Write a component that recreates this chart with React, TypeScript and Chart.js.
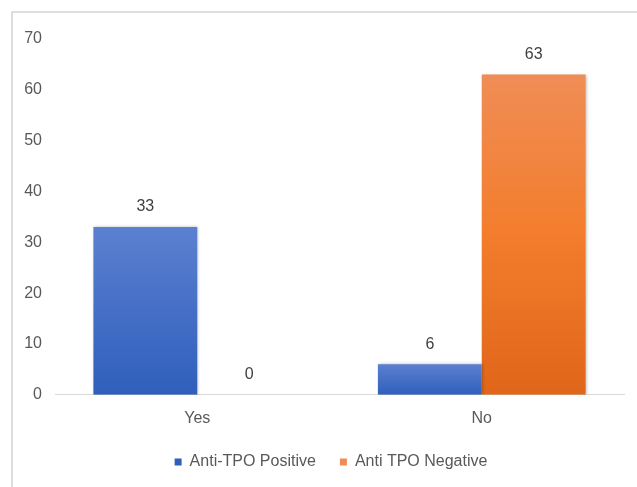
import React, { useEffect, useRef } from "react";
import { Chart, registerables } from "chart.js";

Chart.register(...registerables);

const categories = ["Yes", "No"];
const seriesNames = ["Anti-TPO Positive", "Anti TPO Negative"];
const positiveValues = [33, 6];
const negativeValues = [0, 63];
const yMin = 0;
const yMax = 70;
const yStep = 10;

const blueStops = ["#5b80d0", "#2f5fbc"];
const orangeStops = ["#f08d56", "#f37d2c", "#e0661a"];

function barGradient(stops: string[]) {
  return (ctx: any) => {
    const chart = ctx.chart;
    const y = chart.scales?.y;
    if (!chart.chartArea || !y || ctx.parsed == null) return stops[0];
    const top = y.getPixelForValue(ctx.parsed.y);
    const bottom = y.getPixelForValue(0);
    if (Math.abs(bottom - top) < 1) return stops[0];
    const g = chart.ctx.createLinearGradient(0, top, 0, bottom);
    stops.forEach((c, i) => g.addColorStop(i / (stops.length - 1), c));
    return g;
  };
}

const shadowPlugin = {
  id: "barShadow",
  beforeDatasetsDraw(chart: any) {
    const c = chart.ctx;
    c.save();
    c.shadowColor = "rgba(0,0,0,0.28)";
    c.shadowBlur = 3;
    c.shadowOffsetX = 1;
    c.shadowOffsetY = 0;
  },
  afterDatasetsDraw(chart: any) {
    chart.ctx.restore();
  },
};

const legendShiftPlugin = {
  id: "legendShift",
  afterLayout(chart: any) {
    const lg = chart.legend;
    if (!lg) return;
    lg.left = 38;
    lg.top -= 12;
    lg.bottom -= 12;
  },
};

const labelPlugin = {
  id: "valueLabels",
  afterDatasetsDraw(chart: any) {
    const c = chart.ctx;
    c.save();
    c.font = "16px 'Liberation Sans', Arial, sans-serif";
    c.fillStyle = "#404040";
    c.textAlign = "center";
    c.textBaseline = "middle";
    chart.data.datasets.forEach((ds: any, di: number) => {
      const meta = chart.getDatasetMeta(di);
      meta.data.forEach((bar: any, i: number) => {
        const v = ds.data[i];
        c.fillText(String(v), bar.x, bar.y - 20);
      });
    });
    c.restore();
  },
};

export default function App() {
  const ref = useRef<HTMLCanvasElement>(null);

  useEffect(() => {
    if (!ref.current) return;
    const font = { family: "'Liberation Sans', Arial, sans-serif", size: 16 };
    const chart = new Chart(ref.current, {
      type: "bar",
      data: {
        labels: categories,
        datasets: [
          {
            label: seriesNames[0],
            data: positiveValues,
            backgroundColor: barGradient(blueStops),
            borderWidth: 0,
          },
          {
            label: seriesNames[1],
            data: negativeValues,
            backgroundColor: barGradient(orangeStops),
            borderWidth: 0,
          },
        ],
      },
      options: {
        responsive: false,
        animation: false,
        devicePixelRatio: 1,
        datasets: { bar: { categoryPercentage: 0.73, barPercentage: 1.0 } },
        layout: { padding: { top: 39, left: 0, right: 13, bottom: -5 } },
        plugins: {
          legend: {
            position: "bottom",
            labels: {
              boxWidth: 7,
              boxHeight: 7,
              padding: 24,
              color: "#595959",
              font,
            },
          },
          tooltip: { enabled: false },
        },
        scales: {
          x: {
            grid: { display: false, drawTicks: false },
            border: { display: true, color: "#d9d9d9", width: 1 },
            ticks: { color: "#595959", font, padding: 14 },
          },
          y: {
            min: yMin,
            max: yMax,
            grid: { display: false, drawTicks: false },
            border: { display: false },
            ticks: { stepSize: yStep, color: "#595959", font, padding: 13 },
            afterFit: (s: any) => {
              s.width = 55;
            },
          },
        },
      },
      plugins: [shadowPlugin, labelPlugin, legendShiftPlugin],
    });
    return () => chart.destroy();
  }, []);

  return (
    <div
      style={{
        position: "fixed",
        left: 0,
        top: 0,
        width: 637,
        height: 487,
        background: "#ffffff",
        overflow: "hidden",
      }}
    >
      <div
        style={{
          position: "absolute",
          left: 11,
          top: 11,
          right: 0,
          bottom: 0,
          borderTop: "2px solid #dedede",
          borderLeft: "2px solid #dedede",
        }}
      />
      <canvas
        ref={ref}
        width={637}
        height={487}
        style={{ position: "absolute", left: 0, top: 0, width: 637, height: 487 }}
      />
    </div>
  );
}
